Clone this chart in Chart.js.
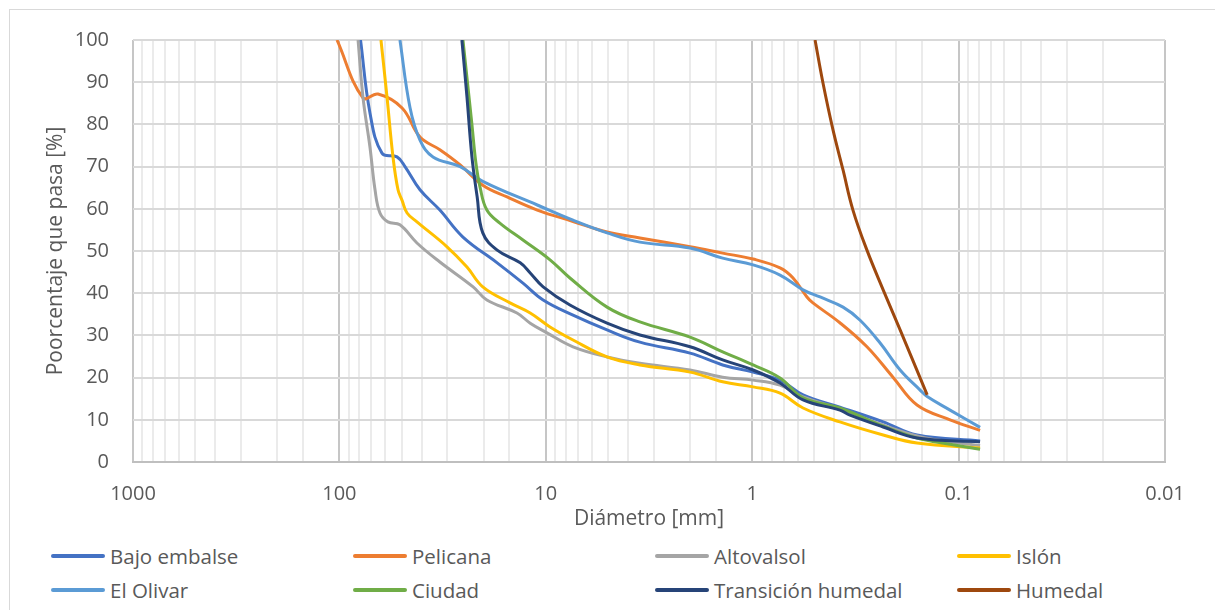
<!DOCTYPE html>
<html>
<head>
<meta charset="utf-8">
<script src="https://cdn.jsdelivr.net/npm/chart.js@4/dist/chart.umd.min.js"></script>
<style>
  html, body { margin: 0; padding: 0; background: #fff; }
  body { width: 1215px; height: 610px; position: relative; overflow: hidden; font-family: "Open Sans", sans-serif; }
  #frame { position: absolute; left: 9px; top: 9px; width: 1230px; height: 640px; border: 1px solid #d9d9d9; }
  #wrap { position: absolute; left: 0; top: 0; width: 1215px; height: 536px; }
  #legend { position: absolute; left: 0; top: 540px; width: 1215px; }
  .item { position: absolute; display: flex; align-items: center; color: #595959; font-size: 20.5px; white-space: nowrap; }
  .item .dash { width: 54px; height: 4px; border-radius: 2px; margin-right: 5px; }
</style>
</head>
<body>
<div id="frame"></div>
<div id="wrap"><canvas id="chart"></canvas></div>
<div id="legend"></div>
<script>
// Curvas granulométricas: diámetro [mm] vs porcentaje que pasa [%]
const TICK_INK = "#595959";
const GRID_H = "#d9d9d9";
const GRID_MAJOR = "#c6c6c6";
const GRID_MINOR = "#ebebeb";

const seriesNames = ["Bajo embalse", "Pelicana", "Altovalsol", "Islón",
                     "El Olivar", "Ciudad", "Transición humedal", "Humedal"];
const seriesColors = ["#4472C4", "#ED7D31", "#A5A5A5", "#FFC000",
                      "#5B9BD5", "#70AD47", "#264478", "#9E480E"];

// [diámetro mm, % que pasa]
const bajoEmbalse = [[79, 100], [71.1, 82.7], [62.2, 73.2], [52.6, 72.3], [48.1, 70], [40.7, 64.5],
  [32.6, 59.7], [25.2, 53.3], [17.2, 47.2], [12.9, 42.4], [10.3, 38.4], [7.38, 34.8], [5.05, 31.3],
  [3.5, 28.4], [2.0, 25.8], [1.39, 23], [0.99, 21.3], [0.733, 19.4], [0.567, 15.9], [0.376, 13],
  [0.232, 9.5], [0.159, 6.4], [0.0787, 5.0]];
const pelicana = [[102.7, 100], [76.9, 86.3], [65.0, 87.2], [49.7, 83.9], [40.7, 77], [32.6, 74],
  [26.0, 70.4], [20.2, 65.6], [15.4, 62.8], [11.0, 59.7], [7.38, 57], [5.05, 54.5], [3.5, 53.1],
  [2.0, 51], [1.39, 49.5], [0.99, 48.1], [0.733, 46], [0.634, 43.6], [0.543, 39.1], [0.508, 37.7],
  [0.376, 33], [0.278, 27.3], [0.208, 20.1], [0.159, 13.5], [0.11, 10], [0.0787, 7.5]];
const altovalsol = [[81.2, 100], [76.9, 86.5], [71.1, 74.6], [67.2, 64.5], [63.6, 59], [58.2, 56.9],
  [50.9, 56.2], [42.1, 51.9], [32.6, 47.4], [22.5, 41.5], [19.3, 38.4], [13.8, 35.3], [11.9, 32.9],
  [9.87, 30.6], [7.38, 27.3], [5.05, 24.9], [3.5, 23.4], [2.0, 21.8], [1.39, 20.1], [0.99, 19.4],
  [0.733, 18.2], [0.567, 15.4], [0.376, 12.6], [0.24, 9.0], [0.154, 6.0], [0.11, 4.8], [0.0787, 3.9]];
const islon = [[62.9, 100], [58.8, 86.5], [55.0, 72.3], [52.0, 64.5], [49.7, 62], [47.0, 59],
  [42.1, 56.9], [30.1, 51], [24.1, 46.2], [20.2, 41.5], [14.9, 37.7], [11.9, 35.3], [9.54, 32],
  [7.38, 28.9], [5.05, 24.9], [3.5, 23], [2.0, 21.3], [1.39, 19], [0.99, 17.8], [0.733, 16.3],
  [0.567, 12.8], [0.376, 9.5], [0.232, 6.4], [0.159, 4.5], [0.0787, 3.3]];
const elOlivar = [[50.9, 100], [45.5, 84], [40.7, 76.3], [35.2, 72.3], [26.0, 70], [20.2, 66.5],
  [11.0, 60.9], [7.38, 57.3], [5.05, 54.3], [3.5, 52.1], [2.0, 50.7], [1.39, 48.3], [0.99, 46.7],
  [0.733, 44.3], [0.567, 40.8], [0.469, 39.1], [0.363, 36.7], [0.3, 33.6], [0.24, 28.2],
  [0.192, 21.8], [0.154, 17.1], [0.142, 15.5], [0.11, 12.3], [0.0787, 8.2]];
const ciudad = [[25.2, 100], [22.8, 80], [21.8, 70.8], [20.8, 65], [19.3, 59.7], [16.7, 56.6],
  [12.9, 52.6], [9.54, 47.9], [7.64, 43.6], [5.05, 36.7], [3.5, 33.2], [2.0, 29.6], [1.39, 26.1],
  [0.99, 23], [0.733, 19.9], [0.567, 15.2], [0.376, 12.8], [0.232, 8.5], [0.159, 5.7], [0.11, 4.2],
  [0.0787, 3.0]];
const transicionHumedal = [[25.5, 100], [24.1, 86.5], [22.8, 72.3], [21.5, 62.8], [20.2, 54.3],
  [17.2, 50.2], [13.3, 47.2], [11.9, 44.8], [10.3, 41.5], [7.64, 37.2], [5.05, 32.9], [3.5, 30.1],
  [2.0, 27.3], [1.39, 24.2], [0.99, 21.8], [0.733, 18.7], [0.567, 14.7], [0.376, 12.3],
  [0.336, 11.1], [0.232, 8.3], [0.159, 5.7], [0.0787, 4.8]];
const humedal = [[0.496, 100], [0.454, 89.8], [0.406, 78.7], [0.363, 69.2], [0.325, 59.7],
  [0.278, 50.2], [0.232, 40.8], [0.192, 31.3], [0.142, 15.9]];

const seriesData = [bajoEmbalse, pelicana, altovalsol, islon, elOlivar, ciudad, transicionHumedal, humedal];

const xTickLabels = [1000, 100, 10, 1, 0.1, 0.01];
const yTicks = { min: 0, max: 100, step: 10 };

function decadeOf(v) {
  return xTickLabels.find(t => Math.abs(v - t) / t < 1e-6);
}

const TICK_FONT = { family: '"Open Sans", sans-serif', size: 20 };
const TITLE_FONT = { family: '"Open Sans", sans-serif', size: 21 };

new Chart(document.getElementById("chart"), {
  type: "line",
  data: {
    datasets: seriesData.map((pts, i) => ({
      label: seriesNames[i],
      data: pts.map(([x, y]) => ({ x, y })),
      borderColor: seriesColors[i],
      backgroundColor: seriesColors[i],
      borderWidth: 3,
      pointRadius: 0,
      tension: 0.4,
      order: seriesData.length - i,
      fill: false,
    })),
  },
  options: {
    responsive: true,
    maintainAspectRatio: false,
    animation: false,
    events: [],
    layout: { padding: { top: 40, right: 50, left: 43, bottom: 4 } },
    plugins: { legend: { display: false }, tooltip: { enabled: false } },
    scales: {
      x: {
        type: "logarithmic",
        reverse: true,
        min: 0.01,
        max: 1000,
        afterFit: s => { s.height = 70; },
        border: { display: true, color: "#bfbfbf", width: 2 },
        grid: {
          drawTicks: false,
          lineWidth: 2,
          color: ctx => decadeOf(ctx.tick.value) ? GRID_MAJOR : GRID_MINOR,
        },
        ticks: {
          autoSkip: false,
          maxRotation: 0,
          minRotation: 0,
          padding: 20,
          color: TICK_INK,
          font: TICK_FONT,
          callback: v => { const d = decadeOf(v); return d ? String(d) : ""; },
        },
        title: { display: true, text: "Diámetro [mm]", color: TICK_INK, font: TITLE_FONT, padding: 0 },
      },
      y: {
        min: yTicks.min,
        max: yTicks.max,
        afterFit: s => { s.width = 90; },
        border: { display: false },
        grid: { drawTicks: false, lineWidth: 2, color: GRID_H },
        ticks: { stepSize: yTicks.step, padding: 24, color: TICK_INK, font: TICK_FONT },
        title: { display: true, text: "Poorcentaje que pasa [%]", color: TICK_INK, font: TITLE_FONT, padding: 0 },
      },
    },
  },
});

// leyenda en cuatro columnas, dos filas
const legendCols = [51, 353, 655, 957];
const legendRows = [2, 36];
document.getElementById("legend").innerHTML = seriesNames.map((name, i) => `
  <div class="item" style="left:${legendCols[i % 4]}px; top:${legendRows[Math.floor(i / 4)]}px">
    <span class="dash" style="background:${seriesColors[i]}"></span>${name}
  </div>`).join("");
</script>
</body>
</html>
